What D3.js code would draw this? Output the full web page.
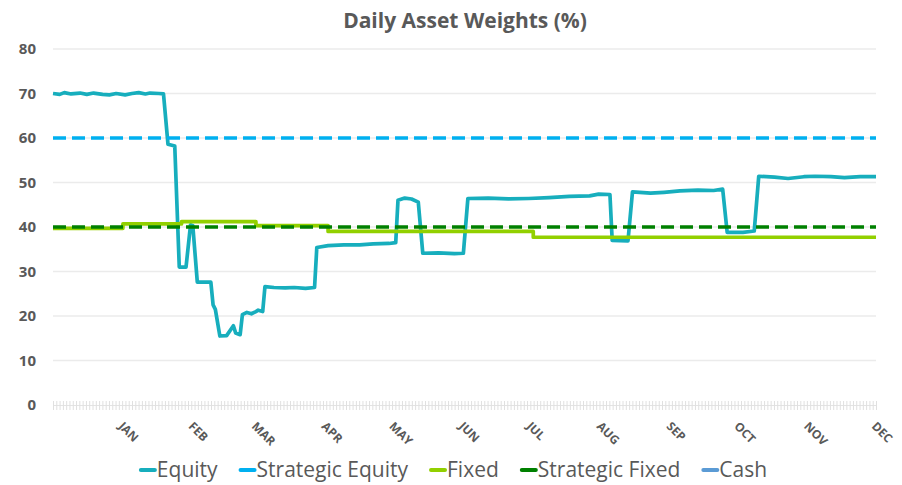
<!DOCTYPE html>
<html>
<head>
<meta charset="utf-8">
<script src="https://cdn.jsdelivr.net/npm/d3@7"></script>
<style>
  body { margin: 0; background: #fff; }
  svg { display: block; font-family: "Open Sans", sans-serif; }
</style>
</head>
<body>
<div id="chart"></div>
<script>
// series values: [date, weight %]
const equity = [
  ["2018-12-01", 70.0], ["2018-12-04", 69.8], ["2018-12-06", 70.2], ["2018-12-09", 69.9],
  ["2018-12-13", 70.1], ["2018-12-16", 69.8], ["2018-12-19", 70.1], ["2018-12-23", 69.8],
  ["2018-12-26", 69.7], ["2018-12-29", 70.0], ["2019-01-02", 69.7], ["2019-01-05", 70.0],
  ["2019-01-08", 70.2], ["2019-01-11", 69.9], ["2019-01-13", 70.1], ["2019-01-17", 70.0],
  ["2019-01-19", 69.9], ["2019-01-21", 58.6], ["2019-01-24", 58.2], ["2019-01-26", 31.0],
  ["2019-01-29", 31.0], ["2019-01-31", 40.5], ["2019-02-01", 40.3], ["2019-02-03", 27.6],
  ["2019-02-09", 27.6], ["2019-02-10", 22.5], ["2019-02-11", 21.5], ["2019-02-13", 15.5],
  ["2019-02-16", 15.6], ["2019-02-19", 17.8], ["2019-02-20", 16.2], ["2019-02-22", 15.8],
  ["2019-02-23", 20.3], ["2019-02-25", 20.8], ["2019-02-27", 20.5], ["2019-03-01", 21.0],
  ["2019-03-02", 21.3], ["2019-03-04", 21.0], ["2019-03-05", 26.6], ["2019-03-09", 26.4],
  ["2019-03-14", 26.3], ["2019-03-18", 26.4], ["2019-03-23", 26.2], ["2019-03-27", 26.4],
  ["2019-03-28", 35.4], ["2019-04-02", 35.8], ["2019-04-09", 36.0], ["2019-04-16", 36.0],
  ["2019-04-22", 36.2], ["2019-04-29", 36.3], ["2019-05-02", 36.5], ["2019-05-03", 46.0],
  ["2019-05-06", 46.5], ["2019-05-09", 46.3], ["2019-05-12", 45.6], ["2019-05-14", 34.1],
  ["2019-05-21", 34.2], ["2019-05-28", 34.0], ["2019-06-01", 34.1], ["2019-06-03", 46.4],
  ["2019-06-12", 46.5], ["2019-06-21", 46.3], ["2019-06-30", 46.4], ["2019-07-09", 46.6],
  ["2019-07-18", 46.9], ["2019-07-27", 47.0], ["2019-07-31", 47.4], ["2019-08-05", 47.3],
  ["2019-08-06", 37.0], ["2019-08-13", 36.9], ["2019-08-15", 47.9], ["2019-08-23", 47.6],
  ["2019-08-29", 47.8], ["2019-09-05", 48.1], ["2019-09-13", 48.3], ["2019-09-20", 48.2],
  ["2019-09-24", 48.5], ["2019-09-26", 38.8], ["2019-10-03", 38.8], ["2019-10-08", 39.1],
  ["2019-10-10", 51.4], ["2019-10-17", 51.2], ["2019-10-23", 50.9], ["2019-10-30", 51.3],
  ["2019-11-04", 51.4], ["2019-11-11", 51.3], ["2019-11-17", 51.1], ["2019-11-24", 51.3],
  ["2019-12-01", 51.3]
];
const strategicEquity = [["2018-12-01", 60], ["2019-12-01", 60]];
const fixed = [
  ["2018-12-01", 39.7], ["2019-01-01", 40.7], ["2019-01-27", 41.2], ["2019-03-01", 40.3],
  ["2019-04-02", 39.0], ["2019-07-02", 37.7], ["2019-12-01", 37.7]
];
const strategicFixed = [["2018-12-01", 40], ["2019-12-01", 40]];
const cash = [];

const seriesNames = ["Equity", "Strategic Equity", "Fixed", "Strategic Fixed", "Cash"];
const monthLabels = ["JAN", "FEB", "MAR", "APR", "MAY", "JUN", "JUL", "AUG", "SEP", "OCT", "NOV", "DEC"];
const monthDates = ["2019-01-01", "2019-02-01", "2019-03-01", "2019-04-01", "2019-05-01", "2019-06-01",
  "2019-07-01", "2019-08-01", "2019-09-01", "2019-10-01", "2019-11-01", "2019-12-01"];
const yTicks = [0, 10, 20, 30, 40, 50, 60, 70, 80];
const tradingDays = 250;

const drawChart = function () {
    const width = 902;
    const height = 485;
    const margin = {top: 49, right: 26, bottom: 80, left: 53};
    const parse = d3.timeParse("%Y-%m-%d");

    const styles = {
        "Equity": {color: "#17aebd", dash: null, data: equity},
        "Strategic Equity": {color: "#00b0f0", dash: "13 6", data: strategicEquity},
        "Fixed": {color: "#92d000", dash: null, data: fixed, step: true},
        "Strategic Fixed": {color: "#008000", dash: "13 6", data: strategicFixed},
        "Cash": {color: "#5b9bd5", dash: null, data: cash}
    };

    const svg = d3.select('#chart').append('svg')
        .attr('width', width)
        .attr('height', height);

    const x = d3.scaleTime()
        .domain([parse("2018-12-01"), parse("2019-12-01")])
        .range([margin.left, width - margin.right]);
    const y = d3.scaleLinear()
        .domain([0, 80])
        .range([height - margin.bottom, margin.top]);

    // title
    svg.append('text')
        .attr('x', 465)
        .attr('y', 28)
        .attr('text-anchor', 'middle')
        .style('font-size', '21px')
        .style('font-weight', 'bold')
        .style('fill', '#595959')
        .text('Daily Asset Weights (%)');

    // gridlines
    svg.append('g')
        .selectAll('line')
        .data(yTicks.filter(d => d > 0))
        .join('line')
        .attr('x1', margin.left)
        .attr('x2', width - margin.right)
        .attr('y1', d => y(d))
        .attr('y2', d => y(d))
        .style('stroke', '#ebebeb')
        .style('stroke-width', 1.3);

    // y labels
    svg.append('g')
        .selectAll('text')
        .data(yTicks)
        .join('text')
        .attr('x', 36)
        .attr('y', d => y(d))
        .attr('dy', '0.36em')
        .attr('text-anchor', 'end')
        .style('font-size', '15px')
        .style('font-weight', 'bold')
        .style('fill', '#595959')
        .text(d => d);

    // x axis with a tick per trading day
    const xi = d3.scaleLinear().domain([0, tradingDays]).range(x.range());
    const xAxis = d3.axisBottom(xi)
        .tickValues(d3.range(0, tradingDays + 1))
        .tickSizeInner(5)
        .tickSizeOuter(0)
        .tickFormat('');
    const gx = svg.append('g')
        .attr('transform', `translate(0,${y(0) - 4})`)
        .call(xAxis);
    gx.select('.domain').style('stroke', '#e3e3e3').attr('transform', 'translate(0,4)');
    gx.selectAll('.tick line').style('stroke', '#e0e0e0').attr('y2', 9);

    // month labels
    svg.append('g')
        .selectAll('text')
        .data(monthLabels)
        .join('text')
        .attr('transform', (d, i) => `translate(${x(parse(monthDates[i])) - 5},427) rotate(45)`)
        .style('font-size', '12px')
        .style('font-weight', 'bold')
        .style('fill', '#595959')
        .text(d => d);

    // lines
    seriesNames.forEach(name => {
        const s = styles[name];
        if (!s.data.length) return;
        const line = d3.line()
            .x(d => x(parse(d[0])))
            .y(d => y(d[1]))
            .curve(s.step ? d3.curveStepAfter : d3.curveLinear);
        svg.append('path')
            .datum(s.data)
            .attr('d', line)
            .style('fill', 'none')
            .style('stroke', s.color)
            .style('stroke-width', 3.7)
            .style('stroke-linejoin', 'round')
            .style('stroke-dasharray', s.dash);
    });

    // legend
    const legend = svg.append('g');
    let cx = 0;
    seriesNames.forEach(name => {
        const item = legend.append('g').attr('transform', `translate(${cx},0)`);
        item.append('line')
            .attr('x1', 2).attr('x2', 16)
            .attr('y1', 0).attr('y2', 0)
            .style('stroke', styles[name].color)
            .style('stroke-width', 4)
            .style('stroke-linecap', 'round');
        const t = item.append('text')
            .attr('x', 18)
            .attr('dy', '0.35em')
            .style('font-size', '21px')
            .style('fill', '#595959')
            .text(name);
        cx += 18 + t.node().getComputedTextLength() + 21;
    });
    const legendWidth = cx - 21;
    legend.attr('transform', `translate(${453 - legendWidth / 2},470)`);
};

drawChart();
</script>
</body>
</html>
